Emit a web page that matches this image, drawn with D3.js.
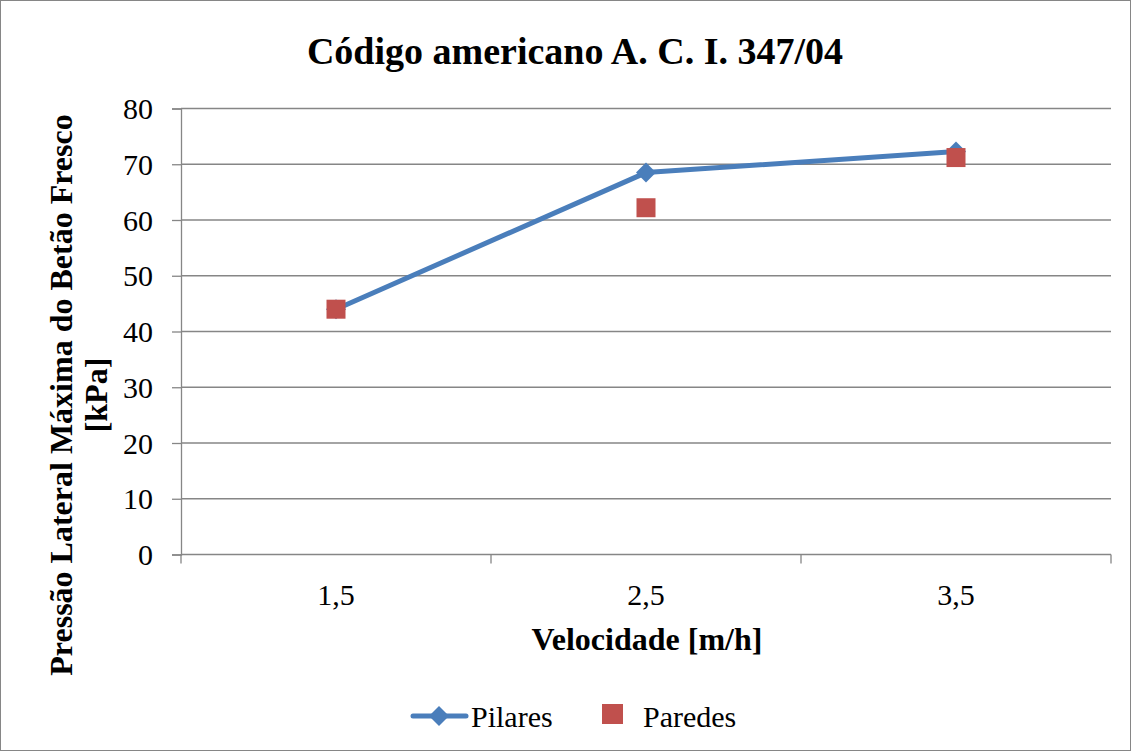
<!DOCTYPE html>
<html>
<head>
<meta charset="utf-8">
<script src="https://cdn.jsdelivr.net/npm/d3@7"></script>
<style>
  html, body { margin: 0; padding: 0; background: #fff; }
  svg text { font-family: "Liberation Serif", "Times New Roman", serif; fill: #000; }
</style>
</head>
<body>
<svg id="chart" width="1131" height="751" font-family="Liberation Serif, serif"></svg>
<script>
// Chart data
const categories = ["1,5", "2,5", "3,5"];
const pilares = [44, 68.5, 72.3];
const paredes = [44, 62.2, 71.2];
const yTicks = [0, 10, 20, 30, 40, 50, 60, 70, 80];
const titleText = "Código americano A. C. I. 347/04";
const xTitle = "Velocidade [m/h]";
const yTitleLines = ["Pressão Lateral Máxima do Betão Fresco", "[kPa]"];
const seriesNames = ["Pilares", "Paredes"];

const svg = d3.select("#chart");
const W = 1131, H = 751;
const plot = { left: 181, right: 1111, top: 108.5, bottom: 554.5 };

const blue = "#4A7EBB", red = "#C0504D", grid = "#868686";
const serif = "'Liberation Serif', 'Times New Roman', serif";

// Outer chart border
svg.append("rect")
  .attr("x", 0.5).attr("y", 0.5)
  .attr("width", W - 1).attr("height", H - 1)
  .attr("fill", "#fff").attr("stroke", "#868686").attr("stroke-width", 1);

const x = d3.scaleBand().domain(categories).range([plot.left, plot.right]).padding(0);
const y = d3.scaleLinear().domain([0, 80]).range([plot.bottom, plot.top]);

// Horizontal gridlines
svg.append("g").selectAll("line").data(yTicks.filter(d => d > 0)).join("line")
  .attr("x1", plot.left).attr("x2", plot.right)
  .attr("y1", d => y(d)).attr("y2", d => y(d))
  .attr("stroke", grid).attr("stroke-width", 1.3);

// Y axis
const yAxis = svg.append("g")
  .attr("transform", `translate(${plot.left},0)`)
  .call(d3.axisLeft(y).tickValues(yTicks).tickSize(9).tickPadding(19).tickFormat(d3.format("d")));
yAxis.attr("font-family", null).attr("font-size", null);
yAxis.select(".domain").attr("stroke", grid).attr("stroke-width", 1.3);
yAxis.selectAll(".tick line").attr("stroke", grid).attr("stroke-width", 1.3);
yAxis.selectAll(".tick text")
  .style("font-family", serif).style("font-size", "30px").attr("fill", "#000").attr("dy", "0.34em");

// X axis: ticks at category boundaries
const boundaries = categories.map(c => x(c)).concat([x(categories[categories.length - 1]) + x.bandwidth()]);
const xg = svg.append("g");
xg.append("line")
  .attr("x1", plot.left).attr("x2", plot.right)
  .attr("y1", plot.bottom).attr("y2", plot.bottom)
  .attr("stroke", grid).attr("stroke-width", 1.3);
xg.selectAll("line.tk").data(boundaries).join("line").attr("class", "tk")
  .attr("x1", d => d).attr("x2", d => d)
  .attr("y1", plot.bottom).attr("y2", plot.bottom + 9)
  .attr("stroke", grid).attr("stroke-width", 1.3);
xg.selectAll("text").data(categories).join("text")
  .attr("x", d => x(d) + x.bandwidth() / 2)
  .attr("y", plot.bottom + 50)
  .attr("text-anchor", "middle")
  .style("font-family", serif).style("font-size", "30px")
  .text(d => d);

// Pilares line + diamond markers
const cx = (i) => x(categories[i]) + x.bandwidth() / 2;
const line = d3.line().x((d, i) => cx(i)).y(d => y(d));
svg.append("path").datum(pilares)
  .attr("d", line).attr("fill", "none")
  .attr("stroke", blue).attr("stroke-width", 5).attr("stroke-linejoin", "round");
const diamond = d3.symbol().type(d3.symbolSquare).size(200);
svg.append("g").selectAll("path").data(pilares).join("path")
  .attr("d", diamond)
  .attr("transform", (d, i) => `translate(${cx(i)},${y(d)}) rotate(45)`)
  .attr("fill", blue);

// Paredes square markers
const sq = 19;
svg.append("g").selectAll("rect").data(paredes).join("rect")
  .attr("x", (d, i) => cx(i) - sq / 2).attr("y", d => y(d) - sq / 2)
  .attr("width", sq).attr("height", sq)
  .attr("fill", red);

// Title
svg.append("text")
  .attr("x", 575).attr("y", 64)
  .attr("text-anchor", "middle")
  .style("font-family", serif).style("font-size", "38px").style("font-weight", "bold")
  .text(titleText);

// X axis title
svg.append("text")
  .attr("x", 647).attr("y", 650)
  .attr("text-anchor", "middle")
  .style("font-family", serif).style("font-size", "32px").style("font-weight", "bold")
  .text(xTitle);

// Y axis title (two lines, rotated)
const yt = svg.append("text")
  .attr("transform", `translate(72,395) rotate(-90)`)
  .attr("text-anchor", "middle")
  .style("font-family", serif).style("font-size", "32px").style("font-weight", "bold");
yt.selectAll("tspan").data(yTitleLines).join("tspan")
  .attr("x", 0).attr("dy", (d, i) => i === 0 ? 0 : 35)
  .text(d => d);

// Legend
const lg = svg.append("g");
lg.append("line").attr("x1", 413).attr("x2", 466).attr("y1", 716).attr("y2", 716)
  .attr("stroke", blue).attr("stroke-width", 5).attr("stroke-linecap", "round");
lg.append("path").attr("d", diamond).attr("transform", "translate(439,716) rotate(45)").attr("fill", blue);
lg.append("text").attr("x", 471).attr("y", 727)
  .style("font-family", serif).style("font-size", "30px").text(seriesNames[0]);
lg.append("rect").attr("x", 602).attr("y", 704).attr("width", 21).attr("height", 20).attr("fill", red);
lg.append("text").attr("x", 643).attr("y", 727)
  .style("font-family", serif).style("font-size", "30px").text(seriesNames[1]);
</script>
</body>
</html>
